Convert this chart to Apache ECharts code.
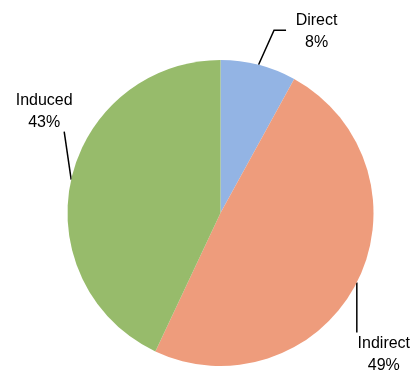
<!DOCTYPE html>
<html>
<head>
<meta charset="utf-8">
<script src="https://cdn.jsdelivr.net/npm/echarts@6/dist/echarts.min.js"></script>
<style>
  html, body { margin: 0; padding: 0; background: #ffffff; }
  #chart { width: 414px; height: 373px; }
</style>
</head>
<body>
<div id="chart"></div>
<script>
// Impact categories and their shares (percent)
const categories = ['Direct', 'Indirect', 'Induced'];
const shares = [8, 49, 43];
const sliceColors = ['#93B4E4', '#EE9C7C', '#97BB6B'];

// Leader line bends and label centres, as offsets from each slice's edge point
const leaderBends = [[[15.5, -34.5], [27.5, -34.5]], [[0, 50]], [[-7, -48]]];
const labelOffsets = [[58, -33], [27, 72], [-27, -68]];

const chart = echarts.init(document.getElementById('chart'), null, { renderer: 'canvas' });

chart.setOption({
  animation: false,
  series: [{
    type: 'pie',
    center: [220.5, 213],
    radius: 153,
    startAngle: 90,
    clockwise: true,
    data: categories.map((name, i) => ({
      name,
      value: shares[i],
      itemStyle: { color: sliceColors[i] }
    })),
    label: {
      show: true,
      formatter: p => p.name + '\n' + p.value + '%',
      fontFamily: '"Liberation Sans", Arial, sans-serif',
      fontSize: 16,
      lineHeight: 22,
      color: '#000000',
      align: 'center',
      overflow: 'none',
      width: 80
    },
    labelLine: {
      show: true,
      length: 10,
      length2: 10,
      lineStyle: { color: '#000000', width: 1.5 }
    },
    labelLayout: function (params) {
      const i = params.dataIndex;
      const start = params.labelLinePoints[0];
      const pts = [start].concat(leaderBends[i].map(o => [start[0] + o[0], start[1] + o[1]]));
      return {
        x: start[0] + labelOffsets[i][0],
        y: start[1] + labelOffsets[i][1],
        align: 'center',
        verticalAlign: 'middle',
        labelLinePoints: pts
      };
    },
    emphasis: { disabled: true }
  }]
});
</script>
</body>
</html>
